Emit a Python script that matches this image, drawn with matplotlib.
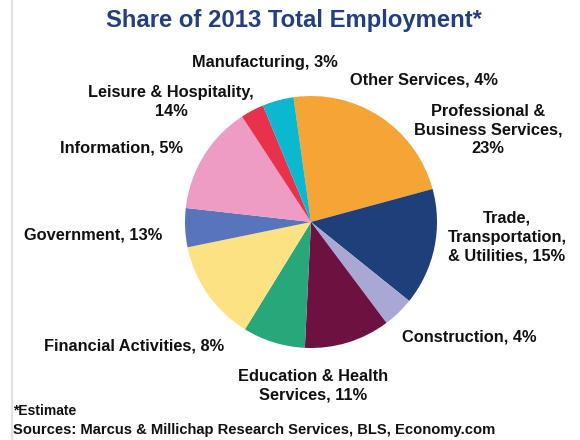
import matplotlib.pyplot as plt
from matplotlib.lines import Line2D

plt.rcParams['font.family'] = ['Liberation Sans', 'DejaVu Sans']

# slices, clockwise from the top
sectors = ["Professional &\nBusiness Services,\n23%",
           "Trade,\nTransportation,\n& Utilities, 15%",
           "Construction, 4%",
           "Education & Health\nServices, 11%",
           "Financial Activities, 8%",
           "Government, 13%",
           "Information, 5%",
           "Leisure & Hospitality,\n14%",
           "Manufacturing, 3%",
           "Other Services, 4%"]
shares = [23, 15, 4, 11, 8, 13, 5, 14, 3, 4]
colors = ["#F4A536", "#1F3F7B", "#A9A8D5", "#6D1240", "#27A77A",
          "#FCE283", "#5874BB", "#EE9CC3", "#E8314A", "#0BB8D0"]

# label centres in pixels (x from left, y from top)
label_pos = [(488, 130), (507, 237), (469, 337), (313, 386), (134, 346),
             (93, 235), (122, 148), (171, 102), (265, 62), (424, 80)]

W, H = 580, 440
fig = plt.figure(figsize=(W / 100, H / 100), dpi=100)

cx, cy, r = 311, 222, 126
ax = fig.add_axes([(cx - r) / W, (H - cy - r) / H, 2 * r / W, 2 * r / H])
ax.pie(shares, colors=colors, startangle=98, counterclock=False,
       radius=1, wedgeprops=dict(linewidth=0))
ax.set_xlim(-1, 1)
ax.set_ylim(-1, 1)
ax.axis('off')

for text, (x, y) in zip(sectors, label_pos):
    fig.text(x / W, 1 - y / H, text, ha='center', va='center',
             fontsize=11.8, fontweight='bold', color='#111111',
             linespacing=1.3, multialignment='center')

fig.text(294 / W, 1 - 20 / H, "Share of 2013 Total Employment*",
         ha='center', va='center', fontsize=17.2, fontweight='bold',
         color='#233F7E')

fig.text(13 / W, 1 - 411 / H, "*Estimate", ha='left', va='center',
         fontsize=10, fontweight='bold', color='#111111')
fig.text(13 / W, 1 - 430 / H,
         "Sources: Marcus & Millichap Research Services, BLS, Economy.com",
         ha='left', va='center', fontsize=10.6, fontweight='bold',
         color='#111111')

fig.add_artist(Line2D([12 / W, 12 / W], [0, 1], color='#e2e2e2', lw=1.5))

fig.savefig('out.png', dpi=100)
